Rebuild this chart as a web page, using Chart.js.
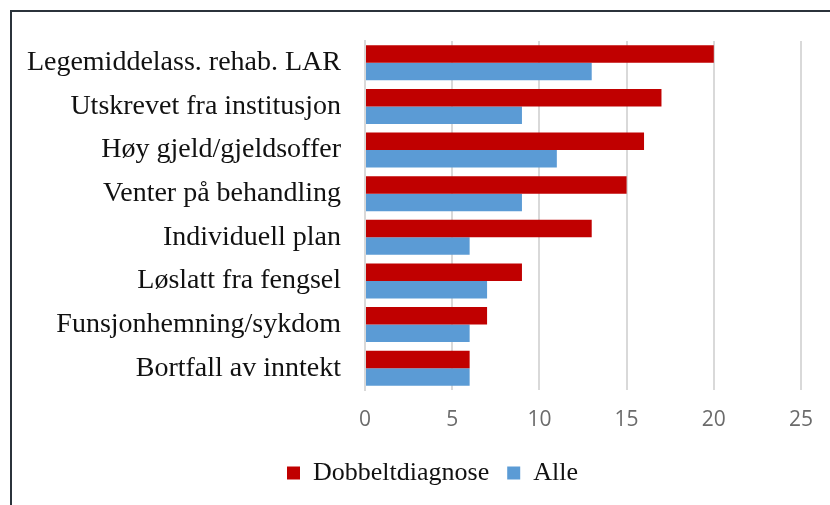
<!DOCTYPE html>
<html>
<head>
<meta charset="utf-8">
<script src="https://cdn.jsdelivr.net/npm/chart.js@4.4.1/dist/chart.umd.min.js"></script>
<style>
  html, body { margin: 0; padding: 0; background: #fff; }
  #wrap { position: relative; width: 830px; height: 505px; }
  #frame { position: absolute; left: 10px; top: 10px; width: 830px; height: 500px;
           border-left: 2px solid #2b333b; border-top: 2px solid #2b333b; box-sizing: border-box; }
  canvas { position: absolute; left: 0; top: 0; }
</style>
</head>
<body>
<div id="wrap">
  <div id="frame"></div>
  <canvas id="chart" width="830" height="505"></canvas>
</div>
<script>
  // Data
  const categories = [
    'Legemiddelass. rehab. LAR',
    'Utskrevet fra institusjon',
    'Høy gjeld/gjeldsoffer',
    'Venter på behandling',
    'Individuell plan',
    'Løslatt fra fengsel',
    'Funsjonhemning/sykdom',
    'Bortfall av inntekt'
  ];
  const dobbeltdiagnose = [20, 17, 16, 15, 13, 9, 7, 6];
  const alle = [13, 9, 11, 9, 6, 7, 6, 6];
  const xTicks = [0, 5, 10, 15, 20, 25];

  const serif = '"Liberation Serif", "DejaVu Serif", serif';

  // legend sits a bit right of the centre in the original
  const shiftLegend = {
    id: 'shiftLegend',
    afterLayout(chart) {
      if (chart.legend) {
        chart.legend.left += 32;
        chart.legend.right += 32;
      }
    }
  };

  const ctx = document.getElementById('chart').getContext('2d');
  new Chart(ctx, {
    type: 'bar',
    data: {
      labels: categories,
      datasets: [{
        label: 'Dobbeltdiagnose',
        data: dobbeltdiagnose,
        backgroundColor: '#c00000',
        categoryPercentage: 0.8,
        barPercentage: 1.0
      }, {
        label: 'Alle',
        data: alle,
        backgroundColor: '#5b9bd5',
        categoryPercentage: 0.8,
        barPercentage: 1.0
      }]
    },
    options: {
      indexAxis: 'y',
      responsive: false,
      animation: false,
      layout: { padding: { left: 0, right: 29, top: 41, bottom: 9 } },
      scales: {
        x: {
          min: 0,
          max: 25,
          afterBuildTicks: (scale) => {
            scale.ticks = xTicks.map(v => ({ value: v }));
          },
          afterFit: (scale) => { scale.height = 52; },
          grid: { color: '#d9d9d9', lineWidth: 2, drawTicks: false },
          border: { display: false },
          ticks: {
            color: '#6b6b6b',
            padding: 17,
            font: { family: '"Open Sans", sans-serif', size: 21 }
          }
        },
        y: {
          afterFit: (scale) => { scale.width = 365; },
          grid: { display: false, drawTicks: false },
          border: { display: true, color: '#d9d9d9', width: 2 },
          ticks: {
            color: '#111',
            padding: 24,
            font: { family: serif, size: 28 }
          }
        }
      },
      plugins: {
        legend: {
          position: 'bottom',
          labels: {
            boxWidth: 13,
            boxHeight: 13,
            padding: 18,
            color: '#111',
            font: { family: serif, size: 26 }
          }
        },
        tooltip: { enabled: false }
      }
    },
    plugins: [shiftLegend]
  });
</script>
</body>
</html>
